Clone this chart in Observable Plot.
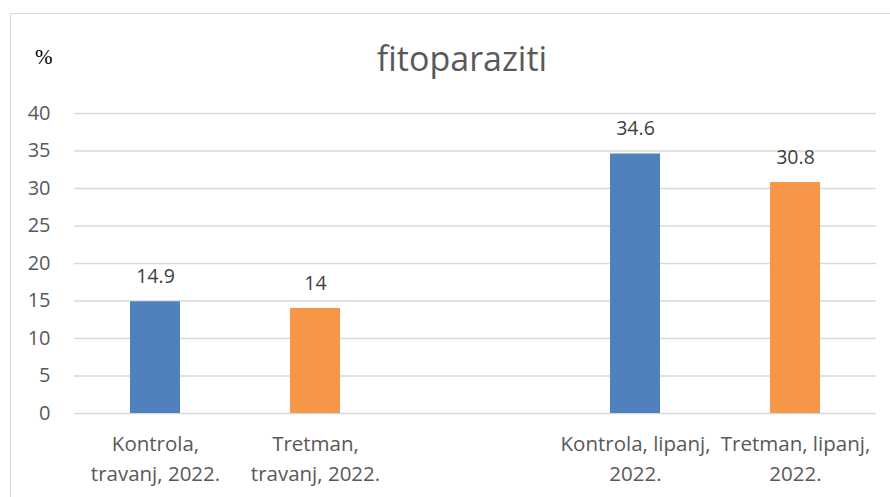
<!DOCTYPE html>
<html><head><meta charset="utf-8">
<script src="https://cdn.jsdelivr.net/npm/d3@7"></script>
<script src="https://cdn.jsdelivr.net/npm/@observablehq/plot@0.6"></script>
<style>
html,body{margin:0;padding:0;background:#fff;}
#wrap{position:relative;width:890px;height:497px;overflow:hidden;}
#frame{position:absolute;left:10px;top:13px;width:900px;height:500px;border:1px solid #d9d9d9;box-sizing:border-box;}
#title{position:absolute;left:0;width:924px;top:36px;text-align:center;font-family:"Open Sans",sans-serif;font-size:34px;line-height:44px;color:#595959;}
#pct{position:absolute;left:35px;top:45px;font-family:"Liberation Serif","Times New Roman",serif;font-size:21px;color:#000;}
#chart{position:absolute;left:0;top:0;}
</style></head>
<body><div id="wrap"><div id="frame"></div><div id="title">fitoparaziti</div><div id="pct">%</div><div id="chart"></div></div>
<script>
const categories = ["Kontrola, travanj, 2022.", "Tretman, travanj, 2022.", "", "Kontrola, lipanj, 2022.", "Tretman, lipanj, 2022."];
const tickLabels = ["Kontrola,\ntravanj, 2022.", "Tretman,\ntravanj, 2022.", "", "Kontrola, lipanj,\n2022.", "Tretman, lipanj,\n2022."];
const groups = ["Kontrola", "Tretman", null, "Kontrola", "Tretman"];
const values = [14.9, 14, null, 34.6, 30.8];
const yTicks = [0, 5, 10, 15, 20, 25, 30, 35, 40];

const data = categories.map((c, i) => ({cat: c, group: groups[i], value: values[i]})).filter(d => d.value != null);
const labelOf = new Map(categories.map((c, i) => [c, tickLabels[i]]));

const chart = Plot.plot({
  width: 890, height: 497,
  marginTop: 113, marginBottom: 84, marginLeft: 74, marginRight: 14,
  style: {fontFamily: '"Open Sans", sans-serif', background: "transparent"},
  x: {domain: categories, paddingInner: 0.688, paddingOuter: 0.344, align: 0.5},
  y: {domain: [0, 40], ticks: yTicks},
  color: {domain: ["Kontrola", "Tretman"], range: ["#4F81BD", "#F79646"]},
  marks: [
    Plot.ruleY(yTicks, {stroke: "#d9d9d9", strokeWidth: 1.3, strokeOpacity: 1}),
    Plot.barY(data, {x: "cat", y: "value", fill: "group"}),
    Plot.text(data, {x: "cat", y: "value", text: d => String(d.value), dy: -25, fontSize: 19.5, fill: "#404040"}),
    Plot.axisY({ticks: yTicks, tickSize: 0, tickPadding: 0, dx: -24, fontSize: 20, color: "#595959", label: null}),
    Plot.axisX({tickSize: 0, tickPadding: 0, dy: 16, fontSize: 20.5, color: "#595959", label: null, tickFormat: d => labelOf.get(d), lineHeight: 1.48})
  ]
});
document.getElementById("chart").appendChild(chart);
</script>
</body></html>
